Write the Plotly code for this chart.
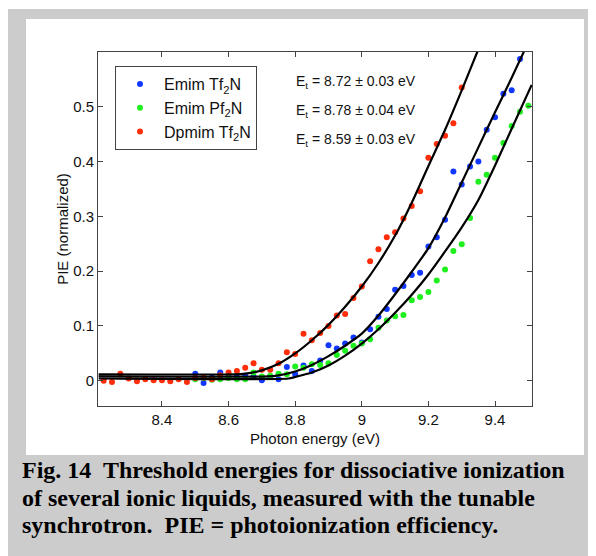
import plotly.graph_objects as go

# measured points (photon energy in eV, normalized PIE)
red_e = [8.225, 8.25, 8.275, 8.3, 8.325, 8.35, 8.375, 8.4, 8.425, 8.45, 8.475, 8.5, 8.525, 8.55,
         8.575, 8.6, 8.625, 8.65, 8.675, 8.7, 8.725, 8.75, 8.775, 8.8, 8.825, 8.85, 8.875, 8.9,
         8.925, 8.95, 8.975, 9.0, 9.025, 9.05, 9.075, 9.1, 9.125, 9.15, 9.175, 9.2, 9.225, 9.25,
         9.275, 9.3]
red_pie = [0.000, -0.002, 0.013, 0.004, -0.001, 0.003, 0.001, 0.001, -0.001, 0.003, -0.002, 0.005,
           0.006, 0.003, 0.010, 0.015, 0.018, 0.024, 0.032, 0.020, 0.020, 0.032, 0.052, 0.049,
           0.086, 0.074, 0.087, 0.100, 0.119, 0.122, 0.151, 0.172, 0.218, 0.240, 0.262, 0.271,
           0.296, 0.319, 0.346, 0.407, 0.432, 0.447, 0.470, 0.535]

blue_e = [8.5, 8.525, 8.55, 8.575, 8.6, 8.625, 8.65, 8.675, 8.7, 8.725, 8.75, 8.775, 8.8, 8.825,
          8.85, 8.875, 8.9, 8.925, 8.95, 8.975, 9.0, 9.025, 9.05, 9.075, 9.1, 9.125, 9.15, 9.175,
          9.2, 9.225, 9.25, 9.275, 9.3, 9.325, 9.35, 9.375, 9.4, 9.425, 9.45, 9.475]
blue_pie = [0.013, -0.004, 0.006, 0.015, 0.008, 0.007, 0.009, 0.008, 0.001, 0.008, 0.003, 0.025,
            0.012, 0.028, 0.018, 0.037, 0.065, 0.059, 0.068, 0.079, 0.070, 0.094, 0.117, 0.131,
            0.166, 0.173, 0.193, 0.197, 0.245, 0.262, 0.294, 0.382, 0.358, 0.391, 0.400, 0.458,
            0.481, 0.524, 0.530, 0.587]

green_e = [8.5, 8.525, 8.55, 8.575, 8.6, 8.625, 8.65, 8.675, 8.7, 8.725, 8.75, 8.775, 8.8, 8.825,
           8.85, 8.875, 8.9, 8.925, 8.95, 8.975, 9.0, 9.025, 9.05, 9.075, 9.1, 9.125, 9.15, 9.175,
           9.2, 9.225, 9.25, 9.275, 9.3, 9.325, 9.35, 9.375, 9.4, 9.425, 9.45, 9.475, 9.5]
green_pie = [0.003, 0.005, 0.002, 0.003, 0.005, 0.003, 0.003, 0.015, 0.008, 0.009, 0.013, 0.012,
             0.026, 0.024, 0.030, 0.029, 0.032, 0.047, 0.055, 0.064, 0.068, 0.076, 0.097, 0.110,
             0.118, 0.120, 0.147, 0.153, 0.162, 0.183, 0.203, 0.237, 0.249, 0.297, 0.363, 0.376,
             0.407, 0.434, 0.465, 0.491, 0.502]

# threshold fits
red_fit_e = [8.21, 8.62, 8.65, 8.70, 8.75, 8.80, 8.85, 8.90, 8.95, 9.00, 9.05, 9.10, 9.15, 9.20,
             9.25, 9.30, 9.35]
red_fit = [0.0118, 0.0118, 0.013, 0.019, 0.031, 0.050, 0.074, 0.102, 0.135, 0.172, 0.215, 0.265,
           0.325, 0.392, 0.458, 0.530, 0.605]
blue_fit_e = [8.21, 8.72, 8.75, 8.80, 8.85, 8.90, 8.95, 9.00, 9.05, 9.10, 9.15, 9.20, 9.25, 9.30,
              9.35, 9.40, 9.45, 9.49]
blue_fit = [0.008, 0.008, 0.010, 0.017, 0.029, 0.045, 0.064, 0.086, 0.119, 0.158, 0.199, 0.242,
            0.298, 0.362, 0.426, 0.490, 0.553, 0.605]
green_fit_e = [8.21, 8.78, 8.80, 8.85, 8.90, 8.95, 9.00, 9.05, 9.10, 9.15, 9.20, 9.25, 9.30, 9.35,
               9.40, 9.45, 9.51]
green_fit = [0.0042, 0.0042, 0.007, 0.015, 0.028, 0.046, 0.068, 0.094, 0.124, 0.157, 0.194, 0.236,
             0.280, 0.330, 0.393, 0.460, 0.540]

thresholds = ['8.72 \u00b1 0.03', '8.78 \u00b1 0.04', '8.59 \u00b1 0.03']

x_ticks = [8.4, 8.6, 8.8, 9.0, 9.2, 9.4]
x_ticktext = ['8.4', '8.6', '8.8', '9', '9.2', '9.4']
y_ticks = [0, 0.1, 0.2, 0.3, 0.4, 0.5]
y_ticktext = ['0', '0.1', '0.2', '0.3', '0.4', '0.5']

BLUE = '#1238ff'
GREEN = '#1ef01e'
RED = '#ff2d0a'

PAGE = 8                        # the browser puts the plot 8px in from the corner
W, H = 596 - PAGE, 556 - PAGE
L, R, T, B = 98, 532, 52, 406   # plot area, in page pixels


def px(x):
    return (x - L) / (R - L)


def py(y):
    return (B - y) / (B - T)


fig = go.Figure()
fig.add_scatter(x=blue_e, y=blue_pie, mode='markers', name='Emim Tf<sub>2</sub>N',
                marker=dict(color=BLUE, size=6))
fig.add_scatter(x=green_e, y=green_pie, mode='markers', name='Emim Pf<sub>2</sub>N',
                marker=dict(color=GREEN, size=6))
fig.add_scatter(x=red_e, y=red_pie, mode='markers', name='Dpmim Tf<sub>2</sub>N',
                marker=dict(color=RED, size=6))
for fe, fv in [(red_fit_e, red_fit), (blue_fit_e, blue_fit), (green_fit_e, green_fit)]:
    fig.add_scatter(x=fe, y=fv, mode='lines', showlegend=False, hoverinfo='skip',
                    line=dict(color='black', width=2.2, shape='spline', smoothing=0.6))

for i, t in enumerate(thresholds):
    fig.add_annotation(x=px(294), y=py(82 + 29 * i), xref='paper', yref='paper',
                       text=f'E<sub>t</sub> = {t} eV', showarrow=False,
                       xanchor='left', yanchor='middle', font=dict(size=14, color='#111'))

caption = ['Fig. 14  Threshold energies for dissociative ionization',
           'of several ionic liquids, measured with the tunable',
           'synchrotron.  PIE = photoionization efficiency.']
for i, line in enumerate(caption):
    fig.add_annotation(x=px(20), y=py(470 + 27.5 * i), xref='paper', yref='paper',
                       text=f'<b>{line}</b>', showarrow=False, xanchor='left', yanchor='middle',
                       font=dict(family='Liberation Serif', size=24, color='black'))

# grey frame and white panel behind the plot
fig.add_shape(type='rect', xref='paper', yref='paper', x0=px(7), x1=px(600), y0=py(560), y1=py(9),
              fillcolor='#cccccc', line_width=0, layer='below')
fig.add_shape(type='rect', xref='paper', yref='paper', x0=px(26), x1=px(584), y0=py(455), y1=py(19),
              fillcolor='white', line_width=0, layer='below')

axis_style = dict(showgrid=False, zeroline=False, showline=True, mirror='ticks', linecolor='#444',
                  linewidth=1, ticks='inside', ticklen=5, tickcolor='#444', automargin=False,
                  tickfont=dict(size=15, color='#111'))
fig.update_xaxes(range=[8.208, 9.511], tickvals=x_ticks, ticktext=x_ticktext,
                 title=dict(text='Photon energy (eV)', font=dict(size=15, color='#111'), standoff=6),
                 **axis_style)
fig.update_yaxes(range=[-0.046, 0.6], tickvals=y_ticks, ticktext=y_ticktext,
                 title=dict(text='PIE (normalized)', font=dict(size=15, color='#111'), standoff=0),
                 **axis_style)

fig.update_layout(width=W, height=H,
                  margin=dict(l=L - PAGE, r=596 - R, t=T - PAGE, b=556 - B, autoexpand=False),
                  paper_bgcolor='white', plot_bgcolor='white',
                  font=dict(family='Liberation Sans, Arial', color='#111'),
                  legend=dict(x=px(115), y=py(66), xanchor='left', yanchor='top',
                              bordercolor='#444', borderwidth=1, bgcolor='white', itemwidth=38,
                              font=dict(size=16, color='#111'), tracegroupgap=0))

fig.write_html('out.html')
